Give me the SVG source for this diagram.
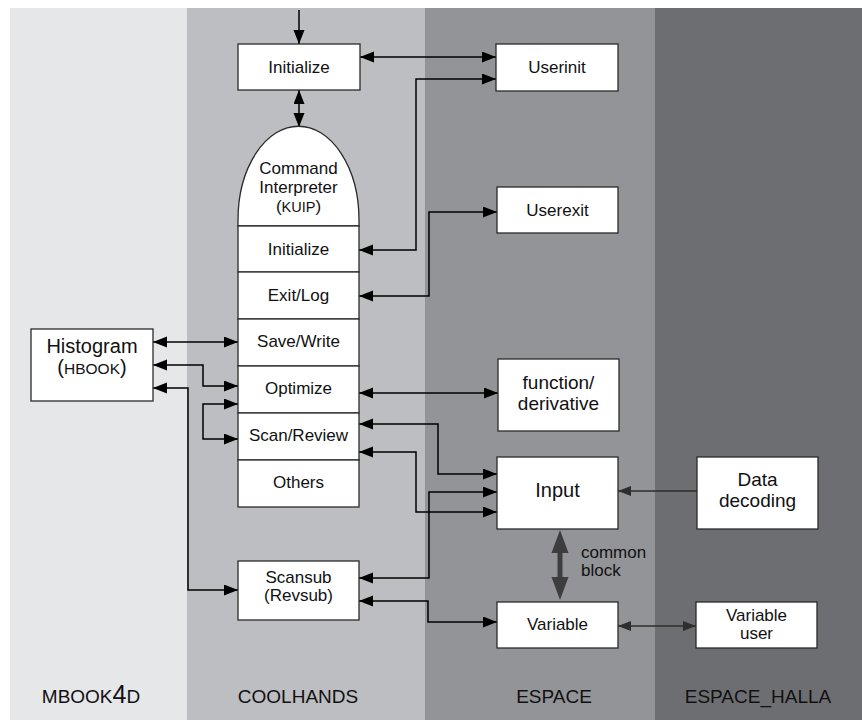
<svg xmlns="http://www.w3.org/2000/svg" width="862" height="721" viewBox="0 0 862 721">
<defs>
<style>
text{font-family:"Liberation Sans",Arial,sans-serif;fill:#111;text-anchor:middle}
.t17{font-size:17px}
.t20{font-size:20px}
.t19{font-size:19px}
.lab{font-size:19px}
.box{fill:#fff;stroke:#2a2a2a;stroke-width:1.3}
.c{fill:none;stroke:#000;stroke-width:1.5;marker-start:url(#ah);marker-end:url(#ah)}
.g{fill:none;stroke:#2e2e2e;stroke-width:1.5}
</style>
<marker id="ah" markerUnits="userSpaceOnUse" markerWidth="15" markerHeight="12" refX="14" refY="5.5" orient="auto-start-reverse" viewBox="0 0 15 12"><path d="M0,0 L14,5.5 L0,11 z" fill="#000"/></marker>
<marker id="ag" markerUnits="userSpaceOnUse" markerWidth="15" markerHeight="12" refX="13" refY="5" orient="auto-start-reverse" viewBox="0 0 15 12"><path d="M0,0 L13,5 L0,10 z" fill="#2e2e2e"/></marker>
</defs>
<rect x="0" y="0" width="862" height="721" fill="#fff"/>
<g id="panels">
<rect x="10" y="8" width="177" height="712" fill="#e6e7e9"/>
<rect x="187" y="8" width="238" height="712" fill="#bdbec2"/>
<rect x="425" y="8" width="230" height="712" fill="#939498"/>
<rect x="655" y="8" width="207" height="712" fill="#6d6e72"/>
<text class="lab" x="91" y="703"><tspan>MBOOK</tspan><tspan font-size="25">4</tspan><tspan>D</tspan></text>
<text class="lab" x="298" y="703">COOLHANDS</text>
<text class="lab" x="554" y="703">ESPACE</text>
<text class="lab" x="758" y="703">ESPACE_HALLA</text>
</g>
<g id="connectors">
<path d="M299,10 V44" fill="none" stroke="#000" stroke-width="1.5" marker-end="url(#ah)"/>
<path class="c" d="M360,57 H496"/>
<path class="c" d="M299,90 V127"/>
<path class="c" d="M359,250 H416 V79 H496"/>
<path class="c" d="M359,296 H429 V212 H497"/>
<path class="c" d="M153,342 H238"/>
<path class="c" d="M153,365 H203 V386 H238"/>
<path class="c" d="M153,388 H188 V590 H238"/>
<path class="c" d="M238,404 H203 V439 H238"/>
<path class="c" d="M359,393 H498"/>
<path class="c" d="M359,424 H438 V474 H497"/>
<path class="c" d="M359,452 H416 V512 H497"/>
<path class="c" d="M359,578 H429 V492 H497"/>
<path class="c" d="M359,601 H428 V622 H497"/>
<path class="g" d="M697,491 H618" marker-end="url(#ag)"/>
<path class="g" d="M618,626 H696" marker-start="url(#ag)" marker-end="url(#ag)"/>
<polygon points="560,530 568.5,553 562.5,553 562.5,577 568.5,577 560,600 551.5,577 557.5,577 557.5,553 551.5,553" fill="#3d3d40"/>
<text class="t17" x="581" y="558" style="text-anchor:start">common</text>
<text class="t17" x="581" y="576" style="text-anchor:start">block</text>
</g>
<g id="init-top">
<rect class="box" x="238" y="44" width="122" height="46"/>
<text class="t17" x="299" y="73">Initialize</text>
</g>
<g id="userinit">
<rect class="box" x="496" y="44" width="122" height="47"/>
<text class="t17" x="557" y="73">Userinit</text>
</g>
<g id="userexit">
<rect class="box" x="497" y="187" width="121" height="46"/>
<text class="t17" x="557.5" y="216">Userexit</text>
</g>
<g id="kuip">
<path class="box" d="M238,226 V220 A60,93 0 0 1 359,220 V226 Z"/>
<text class="t17" x="298.5" y="174">Command</text>
<text class="t17" x="298.5" y="193">Interpreter</text>
<text class="t17" x="298.5" y="212">(<tspan font-size="14.5">KUIP</tspan>)</text>
</g>
<g id="ci-initialize">
<rect class="box" x="238" y="226" width="121" height="46"/>
<text class="t17" x="298.5" y="255">Initialize</text>
</g>
<g id="ci-exitlog">
<rect class="box" x="238" y="272" width="121" height="47"/>
<text class="t17" x="298.5" y="301">Exit/Log</text>
</g>
<g id="ci-save">
<rect class="box" x="238" y="319" width="121" height="47"/>
<text class="t17" x="298.5" y="347">Save/Write</text>
</g>
<g id="ci-optimize">
<rect class="box" x="238" y="366" width="121" height="47"/>
<text class="t17" x="298.5" y="394">Optimize</text>
</g>
<g id="ci-scan">
<rect class="box" x="238" y="413" width="121" height="47"/>
<text class="t17" x="298.5" y="441">Scan/Review</text>
</g>
<g id="ci-others">
<rect class="box" x="238" y="460" width="121" height="47"/>
<text class="t17" x="298.5" y="488">Others</text>
</g>
<g id="histogram">
<rect class="box" x="31" y="329" width="122" height="72"/>
<text class="t20" x="92" y="353">Histogram</text>
<text class="t20" x="92" y="374">(<tspan font-size="15.5">HBOOK</tspan>)</text>
</g>
<g id="function">
<rect class="box" x="498" y="359" width="121" height="72"/>
<text class="t19" x="558.5" y="388.5">function/</text>
<text class="t19" x="558.5" y="409.5">derivative</text>
</g>
<g id="input">
<rect class="box" x="497" y="457" width="121" height="72"/>
<text class="t20" x="557.5" y="497">Input</text>
</g>
<g id="datadecoding">
<rect class="box" x="697" y="457" width="121" height="72"/>
<text class="t19" x="757.5" y="486">Data</text>
<text class="t19" x="757.5" y="507">decoding</text>
</g>
<g id="scansub">
<rect class="box" x="238" y="561" width="121" height="59"/>
<text class="t17" x="298.5" y="583">Scansub</text>
<text class="t17" x="298.5" y="601">(Revsub)</text>
</g>
<g id="variable">
<rect class="box" x="497" y="602" width="121" height="46"/>
<text class="t17" x="557.5" y="630">Variable</text>
</g>
<g id="variableuser">
<rect class="box" x="696" y="602" width="121" height="46"/>
<text class="t17" x="756.5" y="621">Variable</text>
<text class="t17" x="756.5" y="639">user</text>
</g>
</svg>
